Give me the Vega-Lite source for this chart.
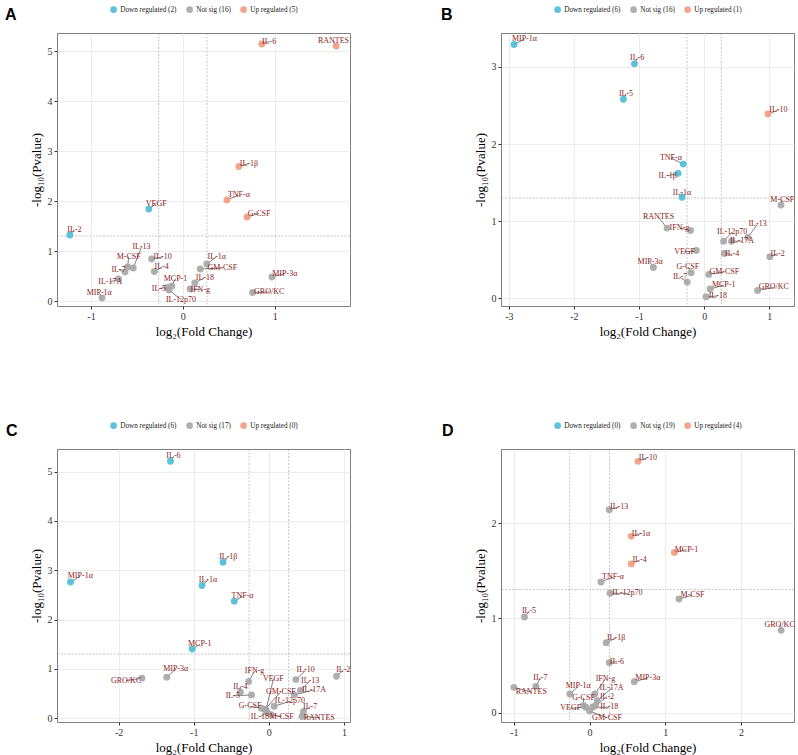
{
  "$schema": "https://vega.github.io/schema/vega-lite/v6.json",
  "autosize": {"type": "pad"},
  "padding": {"left": 4, "top": 5, "right": 4, "bottom": 5},
  "background": "white",
  "bounds": "flush",
  "columns": 2,
  "spacing": {"row": 143, "column": 151},
  "resolve": {
    "scale": {"x": "independent", "y": "independent", "color": "independent"},
    "axis": {"x": "independent", "y": "independent"},
    "legend": {"color": "independent"}
  },
  "config": {
    "view": {"stroke": "#808080", "strokeWidth": 1},
    "axis": {
      "grid": true, "gridColor": "#E8E8E8", "gridWidth": 0.8, "domain": false,
      "tickColor": "#333333", "tickSize": 3, "labelFont": "Liberation Serif", "labelFontSize": 10,
      "labelColor": "#333333", "labelPadding": 2, "titleFont": "Liberation Serif", "titleFontSize": 13,
      "titleFontWeight": "normal", "titleColor": "black", "titlePadding": 4
    },
    "legend": {
      "labelFont": "Liberation Serif", "labelFontSize": 7.2, "labelColor": "#222222",
      "symbolSize": 44, "symbolType": "circle", "symbolStrokeWidth": 0, "labelOffset": 3, "columnPadding": 9
    },
    "title": {
      "font": "Liberation Sans", "fontSize": 16, "fontWeight": "bold", "color": "black",
      "anchor": "start", "frame": "group", "baseline": "alphabetic", "offset": -17
    }
  },
  "datasets": {
    "vcut": [{"fc": -0.263}, {"fc": 0.263}],
    "hcut": [{"nlp": 1.301}],
    "dA": [
      {"g": "IL-6", "fc": 0.86, "nlp": 5.14, "sig": "Up", "lx": 0.94, "ly": 5.19},
      {"g": "RANTES", "fc": 1.67, "nlp": 5.10, "sig": "Up", "lx": 1.64, "ly": 5.20},
      {"g": "IL-1β", "fc": 0.61, "nlp": 2.69, "sig": "Up", "lx": 0.72, "ly": 2.75},
      {"g": "TNF-α", "fc": 0.48, "nlp": 2.02, "sig": "Up", "lx": 0.61, "ly": 2.12},
      {"g": "G-CSF", "fc": 0.70, "nlp": 1.68, "sig": "Up", "lx": 0.83, "ly": 1.75},
      {"g": "VEGF", "fc": -0.37, "nlp": 1.84, "sig": "Down", "lx": -0.29, "ly": 1.95},
      {"g": "IL-2", "fc": -1.23, "nlp": 1.32, "sig": "Down", "lx": -1.18, "ly": 1.43},
      {"g": "IL-13", "fc": -0.54, "nlp": 0.66, "sig": "Not sig", "lx": -0.45, "ly": 1.08},
      {"g": "M-CSF", "fc": -0.60, "nlp": 0.68, "sig": "Not sig", "lx": -0.59, "ly": 0.89},
      {"g": "IL-7", "fc": -0.63, "nlp": 0.58, "sig": "Not sig", "lx": -0.70, "ly": 0.63},
      {"g": "IL-17A", "fc": -0.70, "nlp": 0.44, "sig": "Not sig", "lx": -0.79, "ly": 0.38},
      {"g": "MIP-1α", "fc": -0.88, "nlp": 0.06, "sig": "Not sig", "lx": -0.91, "ly": 0.16},
      {"g": "IL-10", "fc": -0.34, "nlp": 0.84, "sig": "Not sig", "lx": -0.22, "ly": 0.88},
      {"g": "IL-4", "fc": -0.31, "nlp": 0.59, "sig": "Not sig", "lx": -0.23, "ly": 0.68},
      {"g": "MCP-1", "fc": -0.12, "nlp": 0.30, "sig": "Not sig", "lx": -0.08, "ly": 0.45},
      {"g": "IL-5", "fc": -0.17, "nlp": 0.27, "sig": "Not sig", "lx": -0.26, "ly": 0.25},
      {"g": "IL-12p70", "fc": -0.15, "nlp": 0.22, "sig": "Not sig", "lx": -0.02, "ly": 0.03},
      {"g": "IFN-g", "fc": 0.08, "nlp": 0.24, "sig": "Not sig", "lx": 0.19, "ly": 0.23},
      {"g": "IL-18", "fc": 0.13, "nlp": 0.36, "sig": "Not sig", "lx": 0.24, "ly": 0.47},
      {"g": "IL-1α", "fc": 0.26, "nlp": 0.74, "sig": "Not sig", "lx": 0.37, "ly": 0.89},
      {"g": "GM-CSF", "fc": 0.19, "nlp": 0.64, "sig": "Not sig", "lx": 0.43, "ly": 0.66},
      {"g": "MIP-3α", "fc": 0.97, "nlp": 0.48, "sig": "Not sig", "lx": 1.11, "ly": 0.55},
      {"g": "GRO/KC", "fc": 0.76, "nlp": 0.17, "sig": "Not sig", "lx": 0.94, "ly": 0.18}
    ],
    "dB": [
      {"g": "MIP-1α", "fc": -2.92, "nlp": 3.29, "sig": "Down", "lx": -2.76, "ly": 3.36},
      {"g": "IL-6", "fc": -1.07, "nlp": 3.04, "sig": "Down", "lx": -1.03, "ly": 3.11},
      {"g": "IL-5", "fc": -1.24, "nlp": 2.58, "sig": "Down", "lx": -1.20, "ly": 2.65},
      {"g": "TNF-α", "fc": -0.32, "nlp": 1.74, "sig": "Down", "lx": -0.51, "ly": 1.82},
      {"g": "IL-1β", "fc": -0.40, "nlp": 1.62, "sig": "Down", "lx": -0.56, "ly": 1.59},
      {"g": "IL-1α", "fc": -0.34, "nlp": 1.31, "sig": "Down", "lx": -0.34, "ly": 1.37},
      {"g": "IL-10", "fc": 0.98, "nlp": 2.39, "sig": "Up", "lx": 1.14, "ly": 2.44},
      {"g": "M-CSF", "fc": 1.18, "nlp": 1.21, "sig": "Not sig", "lx": 1.20, "ly": 1.28},
      {"g": "RANTES", "fc": -0.57, "nlp": 0.91, "sig": "Not sig", "lx": -0.70, "ly": 1.05},
      {"g": "IFN-g", "fc": -0.21, "nlp": 0.88, "sig": "Not sig", "lx": -0.38, "ly": 0.91},
      {"g": "IL-12p70", "fc": 0.30, "nlp": 0.74, "sig": "Not sig", "lx": 0.43, "ly": 0.86},
      {"g": "IL-13", "fc": 0.67, "nlp": 0.79, "sig": "Not sig", "lx": 0.82, "ly": 0.96},
      {"g": "IL-17A", "fc": 0.42, "nlp": 0.74, "sig": "Not sig", "lx": 0.58, "ly": 0.74},
      {"g": "VEGF", "fc": -0.12, "nlp": 0.62, "sig": "Not sig", "lx": -0.30, "ly": 0.60},
      {"g": "IL-4", "fc": 0.31, "nlp": 0.58, "sig": "Not sig", "lx": 0.43, "ly": 0.57},
      {"g": "IL-2", "fc": 1.01, "nlp": 0.54, "sig": "Not sig", "lx": 1.13, "ly": 0.58},
      {"g": "MIP-3α", "fc": -0.78, "nlp": 0.40, "sig": "Not sig", "lx": -0.83, "ly": 0.47},
      {"g": "G-CSF", "fc": -0.20, "nlp": 0.33, "sig": "Not sig", "lx": -0.25, "ly": 0.41},
      {"g": "IL-7", "fc": -0.26, "nlp": 0.21, "sig": "Not sig", "lx": -0.37, "ly": 0.27},
      {"g": "GM-CSF", "fc": 0.07, "nlp": 0.31, "sig": "Not sig", "lx": 0.31, "ly": 0.34},
      {"g": "MCP-1", "fc": 0.09, "nlp": 0.12, "sig": "Not sig", "lx": 0.30, "ly": 0.17},
      {"g": "IL-18", "fc": 0.03, "nlp": 0.02, "sig": "Not sig", "lx": 0.21, "ly": 0.03},
      {"g": "GRO/KC", "fc": 0.82, "nlp": 0.10, "sig": "Not sig", "lx": 1.07, "ly": 0.14}
    ],
    "dC": [
      {"g": "IL-6", "fc": -1.31, "nlp": 5.21, "sig": "Down", "lx": -1.27, "ly": 5.31},
      {"g": "IL-1β", "fc": -0.61, "nlp": 3.16, "sig": "Down", "lx": -0.54, "ly": 3.27},
      {"g": "MIP-1α", "fc": -2.64, "nlp": 2.76, "sig": "Down", "lx": -2.51, "ly": 2.88},
      {"g": "IL-1α", "fc": -0.89, "nlp": 2.69, "sig": "Down", "lx": -0.81, "ly": 2.80},
      {"g": "TNF-α", "fc": -0.46, "nlp": 2.37, "sig": "Down", "lx": -0.35, "ly": 2.47},
      {"g": "MCP-1", "fc": -1.02, "nlp": 1.40, "sig": "Down", "lx": -0.92, "ly": 1.50},
      {"g": "GRO/KC", "fc": -1.69, "nlp": 0.81, "sig": "Not sig", "lx": -1.90, "ly": 0.76},
      {"g": "MIP-3α", "fc": -1.36, "nlp": 0.83, "sig": "Not sig", "lx": -1.24, "ly": 0.99},
      {"g": "IFN-g", "fc": -0.27, "nlp": 0.74, "sig": "Not sig", "lx": -0.19, "ly": 0.95},
      {"g": "IL-4", "fc": -0.38, "nlp": 0.53, "sig": "Not sig", "lx": -0.38, "ly": 0.64},
      {"g": "IL-5", "fc": -0.23, "nlp": 0.47, "sig": "Not sig", "lx": -0.48, "ly": 0.45},
      {"g": "VEGF", "fc": -0.04, "nlp": 0.16, "sig": "Not sig", "lx": 0.06, "ly": 0.79},
      {"g": "IL-10", "fc": 0.36, "nlp": 0.78, "sig": "Not sig", "lx": 0.49, "ly": 0.97},
      {"g": "IL-2", "fc": 0.90, "nlp": 0.85, "sig": "Not sig", "lx": 0.99, "ly": 0.97},
      {"g": "IL-13", "fc": 0.42, "nlp": 0.56, "sig": "Not sig", "lx": 0.55, "ly": 0.76},
      {"g": "IL-17A", "fc": 0.34, "nlp": 0.47, "sig": "Not sig", "lx": 0.60, "ly": 0.57},
      {"g": "GM-CSF", "fc": -0.05, "nlp": 0.18, "sig": "Not sig", "lx": 0.16, "ly": 0.53},
      {"g": "G-CSF", "fc": -0.10, "nlp": 0.20, "sig": "Not sig", "lx": -0.25, "ly": 0.24},
      {"g": "IL-12p70", "fc": 0.07, "nlp": 0.24, "sig": "Not sig", "lx": 0.28, "ly": 0.34},
      {"g": "IL-18", "fc": -0.02, "nlp": 0.11, "sig": "Not sig", "lx": -0.12, "ly": 0.03},
      {"g": "M-CSF", "fc": 0.03, "nlp": 0.07, "sig": "Not sig", "lx": 0.17, "ly": 0.03},
      {"g": "IL-7", "fc": 0.46, "nlp": 0.13, "sig": "Not sig", "lx": 0.55, "ly": 0.23},
      {"g": "RANTES", "fc": 0.44, "nlp": 0.03, "sig": "Not sig", "lx": 0.67, "ly": 0.01}
    ],
    "dD": [
      {"g": "IL-10", "fc": 0.64, "nlp": 2.65, "sig": "Up", "lx": 0.77, "ly": 2.69},
      {"g": "IL-1α", "fc": 0.55, "nlp": 1.86, "sig": "Up", "lx": 0.68, "ly": 1.89},
      {"g": "MCP-1", "fc": 1.12, "nlp": 1.69, "sig": "Up", "lx": 1.28, "ly": 1.72},
      {"g": "IL-4", "fc": 0.55, "nlp": 1.57, "sig": "Up", "lx": 0.66, "ly": 1.61},
      {"g": "IL-13", "fc": 0.26, "nlp": 2.14, "sig": "Not sig", "lx": 0.39, "ly": 2.17},
      {"g": "TNF-α", "fc": 0.15, "nlp": 1.38, "sig": "Not sig", "lx": 0.31, "ly": 1.43},
      {"g": "IL-12p70", "fc": 0.27, "nlp": 1.26, "sig": "Not sig", "lx": 0.50, "ly": 1.26},
      {"g": "M-CSF", "fc": 1.18, "nlp": 1.20, "sig": "Not sig", "lx": 1.36, "ly": 1.24},
      {"g": "IL-5", "fc": -0.86, "nlp": 1.01, "sig": "Not sig", "lx": -0.80, "ly": 1.07},
      {"g": "GRO/KC", "fc": 2.53, "nlp": 0.87, "sig": "Not sig", "lx": 2.51, "ly": 0.93},
      {"g": "IL-1β", "fc": 0.22, "nlp": 0.74, "sig": "Not sig", "lx": 0.35, "ly": 0.79},
      {"g": "IL-6", "fc": 0.26, "nlp": 0.53, "sig": "Not sig", "lx": 0.36, "ly": 0.54},
      {"g": "MIP-3α", "fc": 0.59, "nlp": 0.33, "sig": "Not sig", "lx": 0.77, "ly": 0.37},
      {"g": "IL-7", "fc": -0.71, "nlp": 0.28, "sig": "Not sig", "lx": -0.65, "ly": 0.37},
      {"g": "RANTES", "fc": -1.00, "nlp": 0.27, "sig": "Not sig", "lx": -0.77, "ly": 0.22},
      {"g": "MIP-1α", "fc": -0.26, "nlp": 0.20, "sig": "Not sig", "lx": -0.15, "ly": 0.28},
      {"g": "IFN-g", "fc": 0.07, "nlp": 0.20, "sig": "Not sig", "lx": 0.21, "ly": 0.36},
      {"g": "IL-17A", "fc": 0.10, "nlp": 0.13, "sig": "Not sig", "lx": 0.29, "ly": 0.26},
      {"g": "IL-2", "fc": 0.08, "nlp": 0.08, "sig": "Not sig", "lx": 0.23, "ly": 0.17},
      {"g": "G-CSF", "fc": -0.08, "nlp": 0.08, "sig": "Not sig", "lx": -0.08, "ly": 0.16},
      {"g": "VEGF", "fc": -0.05, "nlp": 0.06, "sig": "Not sig", "lx": -0.25, "ly": 0.05},
      {"g": "IL-18", "fc": 0.04, "nlp": 0.06, "sig": "Not sig", "lx": 0.26, "ly": 0.06},
      {"g": "GM-CSF", "fc": 0.00, "nlp": 0.02, "sig": "Not sig", "lx": 0.23, "ly": -0.05}
    ]
  },
  "concat": [
    {
      "title": {"text": "A", "dx": -52},
      "width": 293, "height": 273,
      "data": {"name": "dA"},
      "layer": [
        {"data": {"name": "vcut"}, "mark": {"type": "rule", "color": "#8C8C8C", "strokeDash": [2, 1.5], "strokeWidth": 0.5},
         "encoding": {"x": {"field": "fc", "type": "quantitative", "title": "log₂(Fold Change)", "scale": {"domain": [-1.37, 1.82], "nice": false, "zero": false}, "axis": {"values": [-1, 0, 1], "labelExpr": "'' + datum.value"}}}},
        {"data": {"name": "hcut"}, "mark": {"type": "rule", "color": "#8C8C8C", "strokeDash": [2, 1.5], "strokeWidth": 0.5},
         "encoding": {"y": {"field": "nlp", "type": "quantitative", "title": "-log₁₀(Pvalue)", "scale": {"domain": [-0.1, 5.36], "nice": false, "zero": false}, "axis": {"values": [0, 1, 2, 3, 4, 5]}}}},
        {"mark": {"type": "rule", "color": "black", "strokeWidth": 0.5},
         "encoding": {
           "x": {"field": "fc", "type": "quantitative", "title": "log₂(Fold Change)", "scale": {"domain": [-1.37, 1.82], "nice": false, "zero": false}, "axis": {"values": [-1, 0, 1], "labelExpr": "'' + datum.value"}},
           "y": {"field": "nlp", "type": "quantitative", "title": "-log₁₀(Pvalue)", "scale": {"domain": [-0.1, 5.36], "nice": false, "zero": false}, "axis": {"values": [0, 1, 2, 3, 4, 5]}},
           "x2": {"field": "lx"}, "y2": {"field": "ly"}}},
        {"mark": {"type": "circle", "size": 48, "opacity": 0.9},
         "encoding": {
           "x": {"field": "fc", "type": "quantitative", "title": "log₂(Fold Change)", "scale": {"domain": [-1.37, 1.82], "nice": false, "zero": false}, "axis": {"values": [-1, 0, 1], "labelExpr": "'' + datum.value"}},
           "y": {"field": "nlp", "type": "quantitative", "title": "-log₁₀(Pvalue)", "scale": {"domain": [-0.1, 5.36], "nice": false, "zero": false}, "axis": {"values": [0, 1, 2, 3, 4, 5]}},
           "color": {"field": "sig", "type": "nominal", "scale": {"domain": ["Down", "Not sig", "Up"], "range": ["#4DBBD5", "#A6A6A6", "#F39B7F"]},
             "legend": {"orient": "none", "legendX": 53, "legendY": -27, "direction": "horizontal", "title": null,
               "labelExpr": "datum.label === 'Down' ? 'Down regulated (2)' : datum.label === 'Up' ? 'Up regulated (5)' : 'Not sig (16)'"}}}},
        {"mark": {"type": "text", "font": "Liberation Serif", "fontSize": 8, "color": "#8B1A1A", "baseline": "middle"},
         "encoding": {
           "x": {"field": "lx", "type": "quantitative", "title": "log₂(Fold Change)", "scale": {"domain": [-1.37, 1.82], "nice": false, "zero": false}, "axis": {"values": [-1, 0, 1], "labelExpr": "'' + datum.value"}},
           "y": {"field": "ly", "type": "quantitative", "title": "-log₁₀(Pvalue)", "scale": {"domain": [-0.1, 5.36], "nice": false, "zero": false}, "axis": {"values": [0, 1, 2, 3, 4, 5]}},
           "text": {"field": "g"}}}
      ]
    },
    {
      "title": {"text": "B", "dx": -60},
      "width": 293, "height": 273,
      "data": {"name": "dB"},
      "layer": [
        {"data": {"name": "vcut"}, "mark": {"type": "rule", "color": "#8C8C8C", "strokeDash": [2, 1.5], "strokeWidth": 0.5},
         "encoding": {"x": {"field": "fc", "type": "quantitative", "title": "log₂(Fold Change)", "scale": {"domain": [-3.12, 1.38], "nice": false, "zero": false}, "axis": {"values": [-3, -2, -1, 0, 1], "labelExpr": "'' + datum.value"}}}},
        {"data": {"name": "hcut"}, "mark": {"type": "rule", "color": "#8C8C8C", "strokeDash": [2, 1.5], "strokeWidth": 0.5},
         "encoding": {"y": {"field": "nlp", "type": "quantitative", "title": "-log₁₀(Pvalue)", "scale": {"domain": [-0.1, 3.44], "nice": false, "zero": false}, "axis": {"values": [0, 1, 2, 3]}}}},
        {"mark": {"type": "rule", "color": "black", "strokeWidth": 0.5},
         "encoding": {
           "x": {"field": "fc", "type": "quantitative", "title": "log₂(Fold Change)", "scale": {"domain": [-3.12, 1.38], "nice": false, "zero": false}, "axis": {"values": [-3, -2, -1, 0, 1], "labelExpr": "'' + datum.value"}},
           "y": {"field": "nlp", "type": "quantitative", "title": "-log₁₀(Pvalue)", "scale": {"domain": [-0.1, 3.44], "nice": false, "zero": false}, "axis": {"values": [0, 1, 2, 3]}},
           "x2": {"field": "lx"}, "y2": {"field": "ly"}}},
        {"mark": {"type": "circle", "size": 48, "opacity": 0.9},
         "encoding": {
           "x": {"field": "fc", "type": "quantitative", "title": "log₂(Fold Change)", "scale": {"domain": [-3.12, 1.38], "nice": false, "zero": false}, "axis": {"values": [-3, -2, -1, 0, 1], "labelExpr": "'' + datum.value"}},
           "y": {"field": "nlp", "type": "quantitative", "title": "-log₁₀(Pvalue)", "scale": {"domain": [-0.1, 3.44], "nice": false, "zero": false}, "axis": {"values": [0, 1, 2, 3]}},
           "color": {"field": "sig", "type": "nominal", "scale": {"domain": ["Down", "Not sig", "Up"], "range": ["#4DBBD5", "#A6A6A6", "#F39B7F"]},
             "legend": {"orient": "none", "legendX": 53, "legendY": -27, "direction": "horizontal", "title": null,
               "labelExpr": "datum.label === 'Down' ? 'Down regulated (6)' : datum.label === 'Up' ? 'Up regulated (1)' : 'Not sig (16)'"}}}},
        {"mark": {"type": "text", "font": "Liberation Serif", "fontSize": 8, "color": "#8B1A1A", "baseline": "middle"},
         "encoding": {
           "x": {"field": "lx", "type": "quantitative", "title": "log₂(Fold Change)", "scale": {"domain": [-3.12, 1.38], "nice": false, "zero": false}, "axis": {"values": [-3, -2, -1, 0, 1], "labelExpr": "'' + datum.value"}},
           "y": {"field": "ly", "type": "quantitative", "title": "-log₁₀(Pvalue)", "scale": {"domain": [-0.1, 3.44], "nice": false, "zero": false}, "axis": {"values": [0, 1, 2, 3]}},
           "text": {"field": "g"}}}
      ]
    },
    {
      "title": {"text": "C", "dx": -51},
      "width": 293, "height": 273,
      "data": {"name": "dC"},
      "layer": [
        {"data": {"name": "vcut"}, "mark": {"type": "rule", "color": "#8C8C8C", "strokeDash": [2, 1.5], "strokeWidth": 0.5},
         "encoding": {"x": {"field": "fc", "type": "quantitative", "title": "log₂(Fold Change)", "scale": {"domain": [-2.82, 1.08], "nice": false, "zero": false}, "axis": {"values": [-2, -1, 0, 1], "labelExpr": "'' + datum.value"}}}},
        {"data": {"name": "hcut"}, "mark": {"type": "rule", "color": "#8C8C8C", "strokeDash": [2, 1.5], "strokeWidth": 0.5},
         "encoding": {"y": {"field": "nlp", "type": "quantitative", "title": "-log₁₀(Pvalue)", "scale": {"domain": [-0.08, 5.46], "nice": false, "zero": false}, "axis": {"values": [0, 1, 2, 3, 4, 5]}}}},
        {"mark": {"type": "rule", "color": "black", "strokeWidth": 0.5},
         "encoding": {
           "x": {"field": "fc", "type": "quantitative", "title": "log₂(Fold Change)", "scale": {"domain": [-2.82, 1.08], "nice": false, "zero": false}, "axis": {"values": [-2, -1, 0, 1], "labelExpr": "'' + datum.value"}},
           "y": {"field": "nlp", "type": "quantitative", "title": "-log₁₀(Pvalue)", "scale": {"domain": [-0.08, 5.46], "nice": false, "zero": false}, "axis": {"values": [0, 1, 2, 3, 4, 5]}},
           "x2": {"field": "lx"}, "y2": {"field": "ly"}}},
        {"mark": {"type": "circle", "size": 48, "opacity": 0.9},
         "encoding": {
           "x": {"field": "fc", "type": "quantitative", "title": "log₂(Fold Change)", "scale": {"domain": [-2.82, 1.08], "nice": false, "zero": false}, "axis": {"values": [-2, -1, 0, 1], "labelExpr": "'' + datum.value"}},
           "y": {"field": "nlp", "type": "quantitative", "title": "-log₁₀(Pvalue)", "scale": {"domain": [-0.08, 5.46], "nice": false, "zero": false}, "axis": {"values": [0, 1, 2, 3, 4, 5]}},
           "color": {"field": "sig", "type": "nominal", "scale": {"domain": ["Down", "Not sig", "Up"], "range": ["#4DBBD5", "#A6A6A6", "#F39B7F"]},
             "legend": {"orient": "none", "legendX": 53, "legendY": -27, "direction": "horizontal", "title": null,
               "labelExpr": "datum.label === 'Down' ? 'Down regulated (6)' : datum.label === 'Up' ? 'Up regulated (0)' : 'Not sig (17)'",
               "encode": {"symbols": {"update": {"opacity": {"signal": "datum.value === 'Up' ? 0 : 0.9"}}}}}}}},
        {"mark": {"type": "text", "font": "Liberation Serif", "fontSize": 8, "color": "#8B1A1A", "baseline": "middle"},
         "encoding": {
           "x": {"field": "lx", "type": "quantitative", "title": "log₂(Fold Change)", "scale": {"domain": [-2.82, 1.08], "nice": false, "zero": false}, "axis": {"values": [-2, -1, 0, 1], "labelExpr": "'' + datum.value"}},
           "y": {"field": "ly", "type": "quantitative", "title": "-log₁₀(Pvalue)", "scale": {"domain": [-0.08, 5.46], "nice": false, "zero": false}, "axis": {"values": [0, 1, 2, 3, 4, 5]}},
           "text": {"field": "g"}}}
      ]
    },
    {
      "title": {"text": "D", "dx": -59},
      "width": 293, "height": 273,
      "data": {"name": "dD"},
      "layer": [
        {"data": {"name": "vcut"}, "mark": {"type": "rule", "color": "#8C8C8C", "strokeDash": [2, 1.5], "strokeWidth": 0.5},
         "encoding": {"x": {"field": "fc", "type": "quantitative", "title": "log₂(Fold Change)", "scale": {"domain": [-1.17, 2.70], "nice": false, "zero": false}, "axis": {"values": [-1, 0, 1, 2], "labelExpr": "'' + datum.value"}}}},
        {"data": {"name": "hcut"}, "mark": {"type": "rule", "color": "#8C8C8C", "strokeDash": [2, 1.5], "strokeWidth": 0.5},
         "encoding": {"y": {"field": "nlp", "type": "quantitative", "title": "-log₁₀(Pvalue)", "scale": {"domain": [-0.095, 2.78], "nice": false, "zero": false}, "axis": {"values": [0, 1, 2]}}}},
        {"mark": {"type": "rule", "color": "black", "strokeWidth": 0.5},
         "encoding": {
           "x": {"field": "fc", "type": "quantitative", "title": "log₂(Fold Change)", "scale": {"domain": [-1.17, 2.70], "nice": false, "zero": false}, "axis": {"values": [-1, 0, 1, 2], "labelExpr": "'' + datum.value"}},
           "y": {"field": "nlp", "type": "quantitative", "title": "-log₁₀(Pvalue)", "scale": {"domain": [-0.095, 2.78], "nice": false, "zero": false}, "axis": {"values": [0, 1, 2]}},
           "x2": {"field": "lx"}, "y2": {"field": "ly"}}},
        {"mark": {"type": "circle", "size": 48, "opacity": 0.9},
         "encoding": {
           "x": {"field": "fc", "type": "quantitative", "title": "log₂(Fold Change)", "scale": {"domain": [-1.17, 2.70], "nice": false, "zero": false}, "axis": {"values": [-1, 0, 1, 2], "labelExpr": "'' + datum.value"}},
           "y": {"field": "nlp", "type": "quantitative", "title": "-log₁₀(Pvalue)", "scale": {"domain": [-0.095, 2.78], "nice": false, "zero": false}, "axis": {"values": [0, 1, 2]}},
           "color": {"field": "sig", "type": "nominal", "scale": {"domain": ["Down", "Not sig", "Up"], "range": ["#4DBBD5", "#A6A6A6", "#F39B7F"]},
             "legend": {"orient": "none", "legendX": 53, "legendY": -27, "direction": "horizontal", "title": null,
               "labelExpr": "datum.label === 'Down' ? 'Down regulated (0)' : datum.label === 'Up' ? 'Up regulated (4)' : 'Not sig (19)'",
               "encode": {"symbols": {"update": {"opacity": {"signal": "datum.value === 'Down' ? 0 : 0.9"}}}}}}}},
        {"mark": {"type": "text", "font": "Liberation Serif", "fontSize": 8, "color": "#8B1A1A", "baseline": "middle"},
         "encoding": {
           "x": {"field": "lx", "type": "quantitative", "title": "log₂(Fold Change)", "scale": {"domain": [-1.17, 2.70], "nice": false, "zero": false}, "axis": {"values": [-1, 0, 1, 2], "labelExpr": "'' + datum.value"}},
           "y": {"field": "ly", "type": "quantitative", "title": "-log₁₀(Pvalue)", "scale": {"domain": [-0.095, 2.78], "nice": false, "zero": false}, "axis": {"values": [0, 1, 2]}},
           "text": {"field": "g"}}}
      ]
    }
  ]
}
